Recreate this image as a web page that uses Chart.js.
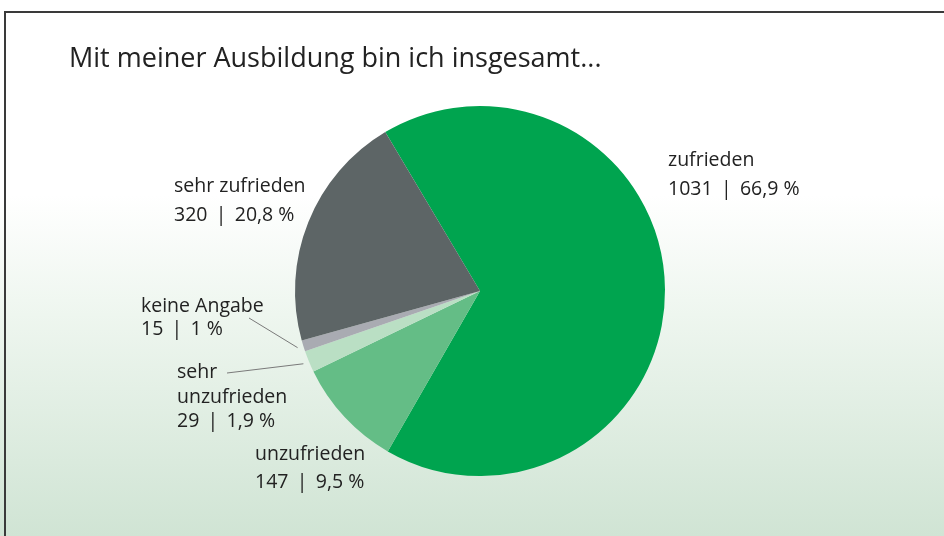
<!DOCTYPE html>
<html lang="de">
<head>
<meta charset="utf-8">
<title>Zufriedenheit mit der Ausbildung</title>
<script src="https://cdn.jsdelivr.net/npm/chart.js@4.4.1/dist/chart.umd.min.js"></script>
<style>
  html, body { margin: 0; padding: 0; background: #fff; }
  #wrap { width: 944px; height: 536px; }
</style>
</head>
<body>
<div id="wrap"><canvas id="chart-1" width="944" height="536"></canvas></div>
<script>
// Data
const chartTitle = 'Mit meiner Ausbildung bin ich insgesamt...';
const categories = ['zufrieden', 'unzufrieden', 'sehr unzufrieden', 'keine Angabe', 'sehr zufrieden'];
const nameLines = [['zufrieden'], ['unzufrieden'], ['sehr', 'unzufrieden'], ['keine Angabe'], ['sehr zufrieden']];
const counts = [1031, 147, 29, 15, 320];
const percentLabels = ['66,9 %', '9,5 %', '1,9 %', '1 %', '20,8 %'];

const sliceColors = ['#00a44f', '#64bd86', '#badfc4', '#a9abb2', '#5d6566'];
const textColor = '#222222';

// label placement relative to pie center (x = left edge, y = first baseline)
const labelLayout = [
    { dx: 188, dy: -125, lh: 29 },
    { dx: -225, dy: 169, lh: 28 },
    { dx: -303, dy: 87, lh: 24.5 },
    { dx: -339, dy: 21, lh: 22.5 },
    { dx: -306, dy: -99, lh: 29 }
];
// leader lines: slice index -> end point near its label (relative to center)
const leaders = {
    2: { dx: -253, dy: 82 },
    3: { dx: -231, dy: 27 }
};

const decorPlugin = {
    id: 'decor',
    beforeDraw(chart) {
        const { ctx, width, height } = chart;
        ctx.save();
        ctx.fillStyle = '#ffffff';
        ctx.fillRect(0, 0, width, height);
        const g = ctx.createLinearGradient(0, 195, 0, height);
        g.addColorStop(0, '#ffffff');
        g.addColorStop(0.35, '#eef6ef');
        g.addColorStop(1, '#d0e4d4');
        ctx.fillStyle = g;
        ctx.fillRect(0, 195, width, height - 195);

        // frame
        ctx.strokeStyle = '#3a3a3a';
        ctx.lineWidth = 2;
        ctx.beginPath();
        ctx.moveTo(5, height);
        ctx.lineTo(5, 12);
        ctx.lineTo(width, 12);
        ctx.stroke();

        // title
        ctx.fillStyle = textColor;
        ctx.font = '27px "Open Sans"';
        ctx.textBaseline = 'alphabetic';
        ctx.fillText(chartTitle, 69, 67);
        ctx.restore();
    },
    afterDraw(chart) {
        const { ctx } = chart;
        const arcs = chart.getDatasetMeta(0).data;
        const cx = arcs[0].x, cy = arcs[0].y;
        ctx.save();
        ctx.fillStyle = textColor;
        ctx.font = '19.5px "Open Sans"';
        ctx.textBaseline = 'alphabetic';
        ctx.textAlign = 'left';
        arcs.forEach((arc, i) => {
            const lay = labelLayout[i];
            const lines = nameLines[i].concat([counts[i] + ' \u2009|\u2009 ' + percentLabels[i]]);
            lines.forEach((t, k) => {
                ctx.fillText(t, cx + lay.dx, cy + lay.dy + k * lay.lh);
            });
        });
        // leader lines
        ctx.strokeStyle = '#7a7a7a';
        ctx.lineWidth = 1;
        Object.keys(leaders).forEach(key => {
            const arc = arcs[key];
            const mid = (arc.startAngle + arc.endAngle) / 2;
            const r = arc.outerRadius + 6;
            ctx.beginPath();
            ctx.moveTo(cx + Math.cos(mid) * r, cy + Math.sin(mid) * r);
            ctx.lineTo(cx + leaders[key].dx, cy + leaders[key].dy);
            ctx.stroke();
        });
        ctx.restore();
    }
};

const ctx1 = document.getElementById('chart-1').getContext('2d');
const chart1 = new Chart(ctx1, {
    type: 'pie',
    data: {
        labels: categories,
        datasets: [{
            data: counts,
            backgroundColor: sliceColors,
            borderWidth: 0
        }]
    },
    options: {
        responsive: false,
        animation: false,
        rotation: -30.8,
        layout: { padding: { top: 106, bottom: 60, left: 295, right: 279 } },
        plugins: {
            legend: { display: false },
            title: { display: false },
            tooltip: { enabled: false }
        }
    },
    plugins: [decorPlugin]
});
</script>
</body>
</html>
